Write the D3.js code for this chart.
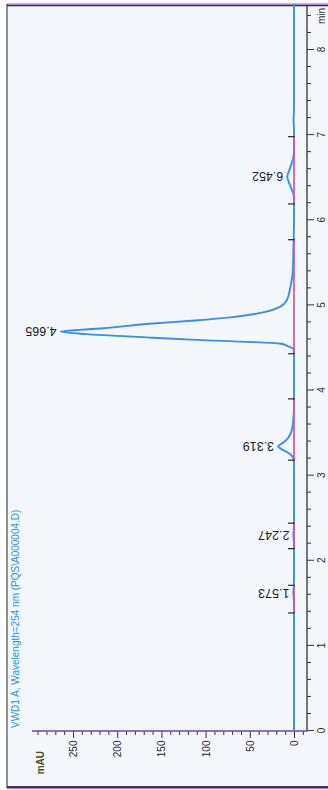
<!DOCTYPE html>
<html>
<head>
<meta charset="utf-8">
<script src="https://cdn.jsdelivr.net/npm/d3@7"></script>
<style>
  html, body { margin: 0; padding: 0; background: #fcfdfe; }
  svg { display: block; }
  text { font-family: "Liberation Sans", Arial, sans-serif; }
</style>
</head>
<body>
<script>
// ---- data ----
const timeMajor = [0, 1, 2, 3, 4, 5, 6, 7, 8];
const mauMajor = [0, 50, 100, 150, 200, 250];

const traceTime = [0, 1.40, 1.55, 1.61, 1.67, 1.80, 2.18, 2.25, 2.29, 2.33, 2.45,
  3.10, 3.18, 3.24, 3.27, 3.30, 3.33, 3.36, 3.39, 3.42, 3.49, 3.53, 3.60, 3.67, 3.80,
  4.40, 4.475, 4.51, 4.54, 4.58, 4.61, 4.65, 4.68, 4.72, 4.772, 4.81, 4.85, 4.915, 4.97, 5.05, 5.21, 5.37, 5.64, 6.0,
  6.25, 6.30, 6.40, 6.50, 6.60, 6.72, 6.82, 7.05, 7.17, 7.29, 8.53];
const traceMAU = [0, 0, 0.3, 0.7, 0.3, 0, 0, 0.4, 0.7, 0.4, 0,
  0, 0.5, 4, 9, 14, 18, 14.5, 10.5, 7.5, 3.5, 2.3, 1.2, 0.6, 0,
  0, 0.5, 7, 16, 105, 163, 235, 264, 215, 164, 112, 69, 31, 16, 8, 4, 1.5, 0.7, 0,
  0, 0.8, 4.5, 7.6, 4.5, 0.8, 0, 0, 0.5, 0, 0];

const peakLabels = ["1.573", "2.247", "3.319", "4.665", "6.452"];
const peakApexTime = [1.61, 2.29, 3.33, 4.68, 6.50];
const peakApexMAU = [0.7, 0.7, 18, 264, 7.6];
const integStart = [1.375, 2.13, 3.17, 4.42, 6.18];
const integEnd = [1.70, 2.43, 3.89, 5.76, 6.97];

const titleText = "VWD1 A, Wavelength=254 nm (PQS\\A000004.D)";

// ---- drawing ----
const W = 328, H = 790;
const svg = d3.select("body").append("svg").attr("width", W).attr("height", H);

svg.append("rect").attr("x", 7).attr("y", 5).attr("width", W - 7).attr("height", 782)
  .attr("fill", "#f3f6fb");

// scales: time runs bottom -> top, mAU runs right -> left
const y = d3.scaleLinear().domain([0, 8]).range([730, 49]);
const x = d3.scaleLinear().domain([0, 250]).range([294, 73]);

// frame
svg.append("line").attr("x1", 7).attr("x2", 7).attr("y1", 4).attr("y2", 788)
  .attr("stroke", "#6a6a6a").attr("stroke-width", 1.5);
svg.append("line").attr("x1", 7).attr("x2", W).attr("y1", 4).attr("y2", 4)
  .attr("stroke", "#c050d0").attr("stroke-width", 1);
svg.append("line").attr("x1", 7).attr("x2", W).attr("y1", 5.5).attr("y2", 5.5)
  .attr("stroke", "#2a2a6a").attr("stroke-width", 1.6);
svg.append("line").attr("x1", 7).attr("x2", W).attr("y1", 787).attr("y2", 787)
  .attr("stroke", "#3a3a4a").attr("stroke-width", 1.8);
svg.append("line").attr("x1", 7).attr("x2", W).attr("y1", 788.5).attr("y2", 788.5)
  .attr("stroke", "#b040c0").attr("stroke-width", 0.8);

// time axis (vertical, right)
const tMinor = d3.range(0, 43).map(i => i / 5).filter(v => Math.abs(v - Math.round(v)) > 1e-6);
const gtMinor = svg.append("g").attr("transform", "translate(307,0)")
  .call(d3.axisRight(y).tickValues(tMinor).tickSize(4).tickFormat(""));
gtMinor.select(".domain").remove();
const gt = svg.append("g").attr("transform", "translate(307,0)")
  .call(d3.axisRight(y).tickValues(timeMajor).tickSize(7).tickFormat(d3.format("d")));
gt.select(".domain").remove();
gt.selectAll(".tick text")
  .attr("x", 0).attr("dy", "0.35em")
  .attr("transform", "translate(14.5,0) rotate(-90)")
  .attr("text-anchor", "middle")
  .attr("font-size", 10).attr("fill", "#2a2a2a");
svg.selectAll(".tick line").attr("stroke", "#333");
svg.append("line").attr("x1", 307).attr("x2", 307).attr("y1", 731).attr("y2", 5)
  .attr("stroke", "#333").attr("stroke-width", 1.3);
svg.append("text").attr("transform", "translate(321.5,24) rotate(-90)")
  .attr("dy", "0.35em").attr("text-anchor", "start")
  .attr("font-size", 10).attr("fill", "#2a2a2a").text("min");

// mAU axis (horizontal, bottom)
const mMinor = d3.range(-10, 300, 10).filter(v => v % 50 !== 0);
const gmMinor = svg.append("g").attr("transform", "translate(0,731)")
  .call(d3.axisBottom(x).tickValues(mMinor).tickSize(4).tickFormat(""));
gmMinor.select(".domain").remove();
const gm = svg.append("g").attr("transform", "translate(0,731)")
  .call(d3.axisBottom(x).tickValues(mauMajor).tickSize(7).tickFormat(d3.format("d")));
gm.select(".domain").remove();
gm.selectAll(".tick text")
  .attr("y", 0).attr("dy", "0.35em")
  .attr("transform", "translate(0,9.5) rotate(-90)")
  .attr("text-anchor", "end")
  .attr("font-size", 10).attr("fill", "#2a2a2a");
svg.selectAll(".tick line").attr("stroke", "#333");
svg.append("line").attr("x1", 32).attr("x2", 307.6).attr("y1", 731).attr("y2", 731)
  .attr("stroke", "#7040b0").attr("stroke-width", 1.5);
svg.append("text").attr("transform", "translate(40,751) rotate(-90)")
  .attr("dy", "0.35em").attr("text-anchor", "end")
  .attr("font-size", 10).attr("font-weight", "bold").attr("fill", "#4a4a28").text("mAU");

// trace
const traceData = traceTime.map((t, i) => ({ t, v: traceMAU[i] }));
const line = d3.line().x(d => x(d.v)).y(d => y(d.t)).curve(d3.curveMonotoneY);
svg.append("path").datum(traceData).attr("d", line)
  .attr("fill", "none").attr("stroke", "#3a8ee8").attr("stroke-width", 1.9)
  .attr("stroke-linejoin", "round");

// integration baselines
svg.selectAll("line.base").data(integStart).enter().append("line")
  .attr("class", "base")
  .attr("x1", x(0)).attr("x2", x(0))
  .attr("y1", d => y(d)).attr("y2", (d, i) => y(integEnd[i]))
  .attr("stroke", "#e2509a").attr("stroke-width", 1.7);

// integration start/end marks
const marks = integStart.concat(integEnd);
svg.selectAll("line.mark").data(marks).enter().append("line")
  .attr("class", "mark")
  .attr("x1", x(0) - 6).attr("x2", x(0) + 1)
  .attr("y1", d => y(d)).attr("y2", d => y(d))
  .attr("stroke", "#2a2a2a").attr("stroke-width", 1.2);

// peak labels (upside down)
svg.selectAll("text.peak").data(peakLabels).enter().append("text")
  .attr("class", "peak")
  .attr("transform", (d, i) => `translate(${x(peakApexMAU[i]) - 4},${y(peakApexTime[i])}) rotate(180)`)
  .attr("dy", "0.35em").attr("text-anchor", "start")
  .attr("font-size", 12.5).attr("fill", "#1e1e1e")
  .text(d => d);

// title
svg.append("text").attr("transform", "translate(15,728) rotate(-90)")
  .attr("dy", "0.35em").attr("text-anchor", "start")
  .attr("font-size", 10).attr("fill", "#2f95dc").text(titleText);
</script>
</body>
</html>
